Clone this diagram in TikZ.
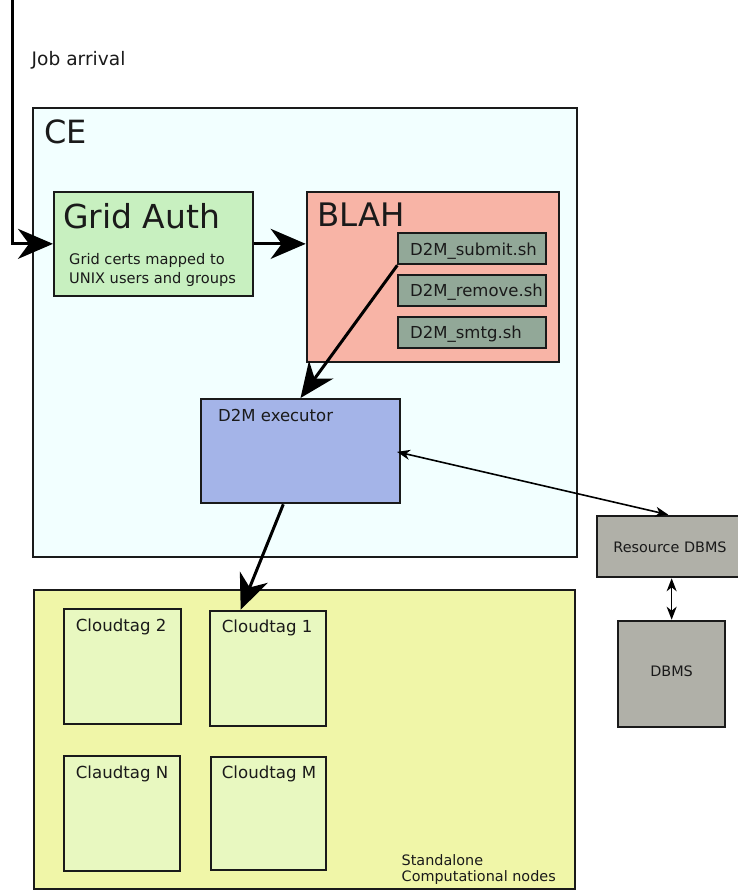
\documentclass[tikz,border=0pt]{standalone}
\usepackage{fontspec}
\setmainfont{DejaVu Sans}
\usetikzlibrary{arrows.meta,calc}

\definecolor{cefill}{RGB}{242,255,255}
\definecolor{authfill}{RGB}{200,240,192}
\definecolor{blahfill}{RGB}{248,180,166}
\definecolor{scriptfill}{RGB}{146,168,152}
\definecolor{execfill}{RGB}{164,180,232}
\definecolor{dbfill}{RGB}{176,176,168}
\definecolor{nodesfill}{RGB}{240,246,168}
\definecolor{tagfill}{RGB}{232,248,192}
\definecolor{ink}{RGB}{26,26,26}

\newcommand{\fs}[2]{\fontsize{#1}{#2}\selectfont}

\begin{document}
\begin{tikzpicture}[x=1pt,y=-1pt,
  box/.style={draw=ink,line width=2pt,rectangle,inner sep=0pt},
  txt/.style={inner sep=0pt,anchor=base west,text=ink},
  bigarrow/.style={draw=black,line width=3pt,-{Stealth[length=35pt 0,width=30pt 0,inset=11pt 0]}},
  thinarrow/.style={draw=black,line width=1.6pt,{Stealth[length=13pt,width=10pt,inset=4pt]}-{Stealth[length=13pt,width=10pt,inset=4pt]}}
]
\useasboundingbox (0,0) rectangle (738,891);

% frames: x1,y1 to x2,y2 given by centre and size
\newcommand{\frm}[7]{\node[box,fill=#2,minimum width=#5-#3,minimum height=#6-#4,#7] (#1) at ({(#3+#5)/2},{(#4+#6)/2}) {};}

% computing element
\frm{ce}{cefill}{33.3}{108.3}{576.7}{557.3}{}
\node[txt,font=\fs{32}{38}] (ceT) at (44,143) {CE};

% grid authentication
\frm{grid}{authfill}{54}{191.7}{253.3}{296}{}
\node[txt,font=\fs{33}{40}] (gridT) at (63,228) {Grid Auth};
\node[txt,font=\fs{14.6}{19}] (gridA) at (69,264) {Grid certs mapped to};
\node[txt,font=\fs{14.6}{19}] (gridB) at (69,283) {UNIX users and groups};

% BLAH with its scripts
\frm{blah}{blahfill}{306.7}{192.3}{559}{361.7}{}
\node[txt,font=\fs{32.4}{39}] (blahT) at (317,226.7) {BLAH};
\frm{submit}{scriptfill}{398.3}{233.3}{545.7}{264.3}{}
\frm{remove}{scriptfill}{398.3}{275}{545.7}{306}{}
\frm{smtg}{scriptfill}{398.3}{316.7}{545.7}{347.7}{}
\node[txt,font=\fs{16.5}{20}] (submitT) at (410,255) {D2M\_submit.sh};
\node[txt,font=\fs{16.5}{20}] (removeT) at (410,296.5) {D2M\_remove.sh};
\node[txt,font=\fs{16.5}{20}] (smtgT) at (410,338) {D2M\_smtg.sh};

% executor
\frm{exec}{execfill}{201}{399}{400}{503.3}{}
\node[txt,font=\fs{16.5}{20}] (execT) at (218,421.5) {D2M executor};

% databases
\frm{res}{dbfill}{597.3}{515.7}{744}{577.3}{}
\node[txt,font=\fs{14.4}{18},anchor=base] (resT) at (670,552) {Resource DBMS};
\frm{dbms}{dbfill}{618.3}{620.7}{725}{726.7}{}
\node[txt,font=\fs{14.4}{18},anchor=base] (dbmsT) at (671.6,676.7) {DBMS};

% computational nodes
\frm{pool}{nodesfill}{34}{590}{575}{889}{line width=1.5pt}
\node[txt,font=\fs{14.4}{17}] (poolA) at (401.5,865) {Standalone};
\node[txt,font=\fs{14.4}{17}] (poolB) at (401.5,881) {Computational nodes};

\frm{c2}{tagfill}{64.3}{609}{180.7}{724}{}
\frm{c1}{tagfill}{210.3}{610.7}{325.7}{726}{}
\frm{cn}{tagfill}{64.3}{756}{180}{871}{}
\frm{cm}{tagfill}{211.3}{756.7}{326}{870}{}
\node[txt,font=\fs{16.6}{20}] (c2T) at (75.7,631.7) {Cloudtag 2};
\node[txt,font=\fs{16.6}{20}] (c1T) at (221.7,632) {Cloudtag 1};
\node[txt,font=\fs{16.6}{20}] (cnT) at (75.7,778) {Claudtag N};
\node[txt,font=\fs{16.6}{20}] (cmT) at (221.7,778) {Cloudtag M};

% job entry
\coordinate (jobin) at (12.3,-2);
\node[txt,font=\fs{18.6}{22}] (jobT) at (31.5,66) {Job arrival};

% connectors
\draw[bigarrow] (jobin) |- (grid.west);
\draw[bigarrow] (grid.east) -- (grid.east -| blah.west);
\draw[bigarrow] (submit.south west) -- (exec.north);
\draw[bigarrow] ($(exec.south west)+(83.3,0)$) -- ($(c1.north west)+(31.4,0)$);
\draw[thinarrow] ($(exec.east)+(-4,0.7)$) -- (res.north -| 668.3,0);
\draw[thinarrow] (dbms.north |- res.south) -- (dbms.north);
\end{tikzpicture}
\end{document}
